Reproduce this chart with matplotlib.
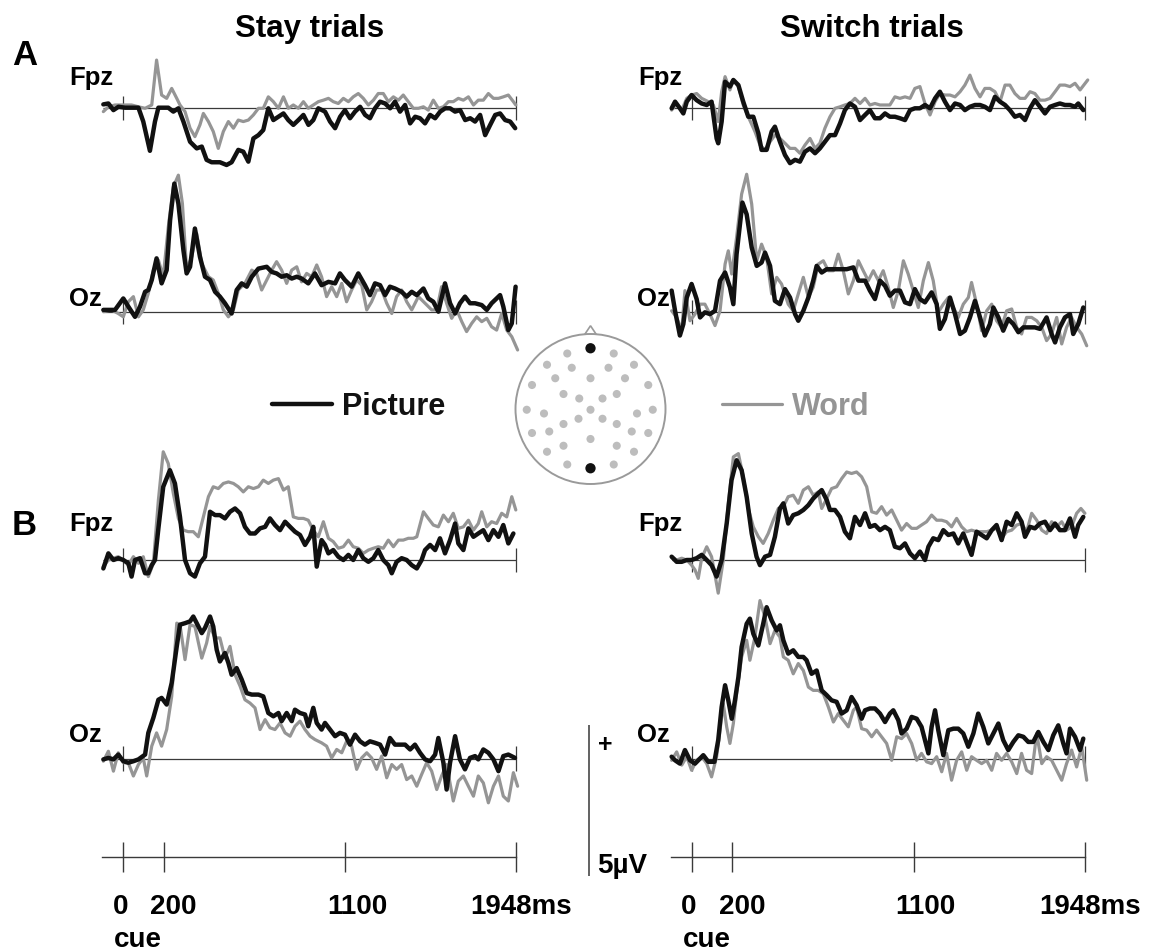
import matplotlib
matplotlib.use('Agg')
import matplotlib.pyplot as plt
import matplotlib.transforms as mtransforms
from matplotlib.patches import Circle, Polygon

plt.rcParams['font.family'] = ['Liberation Sans', 'DejaVu Sans']

# ERP traces, (time ms, amplitude uV), positive up
a_stay_fpz_pic = [(-99, 0.11), (-74, 0.14), (-49, -0.08), (-24, 0.03), (9, 0), (75, 0), (99, -0.46), (132, -1.43),
                  (157, -0.46), (174, 0), (223, 0), (248, -0.13), (273, -0.02), (298, -0.46), (331, -1.13),
                  (364, -1.35), (389, -1.29), (413, -1.73), (438, -1.81), (479, -1.81), (512, -1.90), (537, -1.81),
                  (570, -1.40), (595, -1.46), (620, -1.79), (645, -1.02), (670, -0.91), (694, -0.74), (719, -0.02),
                  (744, -0.41), (769, -0.30), (794, -0.19), (818, -0.41), (843, -0.57), (868, -0.41), (893, -0.24),
                  (918, -0.57), (942, -0.41), (967, -0.02), (1000, -0.13), (1025, -0.46), (1050, -0.68),
                  (1075, -0.30), (1099, -0.08), (1124, -0.35), (1149, -0.13), (1174, 0.03), (1199, -0.24),
                  (1223, -0.35), (1248, -0.02), (1273, 0.20), (1298, 0.14), (1323, -0.02), (1347, 0.20),
                  (1372, -0.13), (1397, 0.09), (1422, -0.52), (1447, -0.30), (1471, -0.35), (1496, -0.52),
                  (1521, -0.24), (1546, -0.35), (1571, -0.13), (1596, -0.02), (1620, -0.02), (1645, -0.13),
                  (1670, -0.08), (1695, -0.41), (1720, -0.35), (1744, -0.46), (1769, -0.24), (1794, -0.91),
                  (1819, -0.57), (1844, -0.24), (1868, -0.19), (1893, -0.41), (1918, -0.46), (1943, -0.68)]
a_stay_fpz_word = [(-99, -0.13), (-74, 0.03), (-41, 0.09), (0, 0.09), (41, 0.09), (75, 0.03), (108, -0.02),
                   (141, 0.09), (165, 1.58), (190, 0.42), (215, 0.31), (240, 0.64), (265, 0.31), (281, 0.09),
                   (306, -0.13), (331, -0.68), (355, -0.96), (380, -0.57), (397, -0.19), (422, -0.46), (446, -0.79),
                   (471, -1.35), (496, -0.79), (521, -0.46), (546, -0.68), (570, -0.41), (595, -0.46), (620, -0.41),
                   (645, -0.24), (670, -0.02), (694, -0.02), (719, 0.36), (744, 0.20), (769, -0.02), (794, 0.36),
                   (818, -0.02), (843, 0.09), (868, -0.02), (893, 0.20), (917, -0.02), (942, 0.09), (967, 0.20),
                   (992, 0.25), (1017, 0.31), (1041, 0.20), (1066, 0.14), (1091, 0.31), (1116, 0.20), (1140, 0.36),
                   (1165, 0.47), (1190, 0.31), (1215, 0.09), (1240, 0.25), (1264, 0.47), (1289, 0.47), (1314, 0.20),
                   (1339, 0.36), (1364, 0.25), (1388, 0.42), (1413, 0.20), (1438, -0.02), (1463, -0.02),
                   (1488, 0.03), (1512, -0.08), (1537, 0.25), (1562, -0.02), (1587, 0.03), (1612, 0.20),
                   (1636, 0.20), (1661, 0.31), (1686, 0.25), (1711, 0.36), (1736, 0.09), (1760, 0.25), (1785, 0.25),
                   (1810, 0.47), (1835, 0.31), (1860, 0.31), (1884, 0.36), (1909, 0.42), (1934, 0.20), (1946, 0.09)]
a_stay_oz_pic = [(-99, 0.06), (-41, 0.06), (0, 0.44), (25, 0.17), (58, -0.17), (83, 0.17), (108, 0.66), (124, 0.72),
                 (141, 1.05), (165, 1.77), (190, 0.94), (215, 1.38), (232, 3.04), (253, 4.25), (273, 3.59),
                 (298, 2.04), (314, 1.27), (331, 1.49), (355, 2.76), (380, 1.82), (405, 1.16), (430, 1.05),
                 (455, 0.66), (479, 0.50), (504, 0.28), (537, -0.06), (562, 0.72), (587, 0.94), (612, 0.83),
                 (637, 1.16), (670, 1.43), (711, 1.49), (736, 1.32), (760, 1.27), (785, 1.16), (810, 1.21),
                 (835, 1.10), (860, 1.16), (884, 1.10), (917, 0.94), (950, 1.27), (983, 0.88), (1017, 0.99),
                 (1050, 0.94), (1074, 1.27), (1099, 1.05), (1132, 0.83), (1165, 1.27), (1198, 0.88), (1223, 0.55),
                 (1248, 0.94), (1273, 0.88), (1298, 0.55), (1322, 0.83), (1347, 0.77), (1380, 0.66), (1405, 0.50),
                 (1430, 0.66), (1455, 0.55), (1488, 0.77), (1512, 0.44), (1537, 0.33), (1562, 0), (1595, 0.94),
                 (1620, 0.28), (1645, -0.06), (1669, 0.28), (1694, 0.50), (1719, 0.28), (1744, 0.28), (1777, 0.22),
                 (1802, 0.06), (1826, 0.28), (1868, 0.55), (1884, 0.17), (1909, -0.61), (1926, -0.39), (1945, 0.83)]
a_stay_oz_word = [(-99, 0), (-58, 0.06), (-25, -0.06), (0, -0.17), (25, 0.33), (50, 0.50), (75, -0.17), (99, 0.06),
                  (124, 0.61), (149, 1.38), (174, 1.71), (198, 1.16), (223, 2.81), (248, 4.14), (273, 4.53),
                  (293, 3.59), (314, 1.38), (339, 1.82), (364, 2.59), (389, 1.60), (422, 1.16), (446, 1.05),
                  (471, 0.61), (496, 0.06), (521, -0.17), (546, 0.06), (570, 0.72), (603, 0.94), (637, 1.38),
                  (661, 1.27), (686, 0.72), (711, 1.05), (736, 1.38), (760, 1.66), (785, 1.38), (810, 0.94),
                  (835, 1.38), (860, 1.49), (884, 0.99), (909, 1.27), (934, 1.16), (959, 1.55), (983, 1.16),
                  (1008, 0.50), (1033, 0.83), (1058, 0.50), (1083, 0.94), (1107, 0.33), (1132, 0.72), (1157, 1.05),
                  (1182, 0.88), (1207, 0.06), (1231, 0.33), (1256, 0.72), (1281, 0.72), (1306, 0.28), (1331, -0.06),
                  (1355, 0.50), (1380, 0.72), (1405, 0.33), (1430, 0.06), (1463, 0.50), (1496, 0.28), (1529, 0.06),
                  (1554, 0.06), (1578, 0.83), (1603, 0.28), (1628, -0.22), (1653, 0.06), (1678, -0.33),
                  (1702, -0.66), (1727, -0.39), (1752, -0.17), (1777, -0.33), (1802, -0.22), (1826, -0.50),
                  (1851, -0.61), (1876, -0.06), (1901, -0.61), (1926, -0.83), (1955, -1.27)]
a_switch_fpz_pic = [(-101, -0.02), (-84, 0.20), (-60, -0.02), (-43, -0.19), (-26, 0.20), (-2, 0.42), (23, 0.25),
                    (48, 0.14), (73, 0.09), (97, 0.20), (122, -1.02), (130, -1.18), (147, -0.46), (164, 0.86),
                    (188, 0.70), (205, 0.92), (230, 0.75), (254, 0.20), (279, -0.30), (304, -0.30), (329, -0.85),
                    (345, -1.40), (370, -1.40), (395, -0.79), (411, -0.63), (436, -1.13), (461, -1.57),
                    (486, -1.84), (511, -1.73), (535, -1.79), (560, -1.46), (585, -1.35), (610, -1.51),
                    (634, -1.35), (659, -1.13), (684, -0.91), (709, -0.91), (734, -0.52), (758, -0.08), (783, 0.14),
                    (808, 0.03), (833, -0.41), (858, -0.24), (882, -0.08), (907, -0.35), (932, -0.35), (957, -0.19),
                    (981, -0.30), (1006, -0.30), (1031, -0.35), (1056, -0.41), (1081, -0.08), (1105, -0.02),
                    (1130, -0.02), (1155, 0.09), (1180, -0.02), (1205, 0.31), (1229, 0.53), (1254, 0.20),
                    (1279, -0.08), (1304, 0.14), (1329, 0.09), (1353, -0.08), (1378, 0.03), (1403, 0.09),
                    (1428, 0.09), (1452, 0.03), (1477, -0.08), (1502, 0.36), (1527, 0.20), (1552, 0.09),
                    (1576, -0.08), (1601, -0.30), (1626, -0.24), (1651, -0.41), (1676, -0.02), (1700, 0.25),
                    (1725, 0.03), (1750, -0.19), (1775, 0.03), (1800, 0.09), (1824, 0.14), (1849, 0.09),
                    (1874, 0.09), (1899, 0.03), (1915, 0.14), (1940, -0.08)]
a_switch_fpz_word = [(-101, -0.08), (-76, 0.14), (-51, -0.08), (-26, 0.31), (-2, 0.42), (23, 0.47), (48, 0.31),
                     (81, 0.20), (106, 0.09), (130, -0.46), (147, 0.53), (164, 1.03), (188, 0.59), (205, 0.92),
                     (230, 0.70), (254, 0.09), (279, -0.30), (312, -0.79), (337, -1.24), (362, -1.40), (387, -1.13),
                     (411, -0.91), (436, -1.02), (461, -1.18), (486, -1.35), (511, -1.35), (535, -1.51),
                     (560, -1.24), (585, -1.02), (610, -1.35), (634, -1.18), (659, -0.68), (684, -0.30),
                     (709, -0.02), (734, 0.03), (758, 0.09), (783, 0.14), (808, 0.31), (833, 0.14), (858, 0.31),
                     (882, 0.09), (907, 0.14), (932, 0.09), (957, 0.09), (981, 0.09), (1006, 0.36), (1031, 0.31),
                     (1056, 0.36), (1081, 0.31), (1105, 0.64), (1130, 0.70), (1155, 0.14), (1180, -0.24),
                     (1205, 0.20), (1229, 0.47), (1254, 0.42), (1279, 0.42), (1304, 0.36), (1329, 0.53),
                     (1353, 0.75), (1378, 1.08), (1403, 0.64), (1428, 0.36), (1452, 0.64), (1477, 0.64),
                     (1502, 0.53), (1527, 0.20), (1552, 0.75), (1576, 0.75), (1601, 0.47), (1626, 0.31),
                     (1651, 0.31), (1676, 0.53), (1700, 0.47), (1725, 0.25), (1750, 0.25), (1775, 0.31),
                     (1800, 0.53), (1824, 0.75), (1849, 0.75), (1874, 0.70), (1899, 0.81), (1924, 0.59), (1962, 0.92)]
a_switch_oz_pic = [(-101, 0.70), (-84, 0.03), (-60, -0.79), (-43, -0.41), (-26, 0.47), (-2, 0.92), (23, 0.42),
                   (40, -0.19), (64, -0.02), (89, -0.08), (114, 0.03), (139, 1.03), (164, 1.30), (188, 0.81),
                   (205, 0.25), (221, 1.91), (250, 3.62), (271, 3.23), (296, 2.13), (321, 1.52), (345, 1.63),
                   (362, 1.96), (387, 1.52), (411, 0.36), (436, 0.25), (461, 0.75), (486, 0.47), (511, -0.08),
                   (527, -0.30), (552, 0.03), (577, 0.47), (601, 1.03), (618, 1.52), (643, 1.30), (668, 1.41),
                   (692, 1.41), (725, 1.41), (767, 1.41), (800, 1.47), (825, 1.03), (858, 1.03), (882, 0.70),
                   (907, 0.42), (932, 1.03), (957, 0.86), (981, 0.53), (1006, 0.70), (1031, 0.70), (1056, 0.31),
                   (1081, 0.25), (1105, 0.75), (1130, 0.42), (1155, 0.31), (1188, 0.64), (1213, 0.25),
                   (1229, -0.57), (1254, -0.24), (1279, 0.47), (1304, -0.08), (1329, -0.74), (1353, -0.63),
                   (1378, -0.19), (1403, 0.36), (1428, -0.19), (1452, -0.79), (1477, -0.41), (1494, 0.14),
                   (1519, -0.19), (1543, -0.63), (1568, -0.24), (1593, -0.41), (1618, -0.68), (1643, -0.52),
                   (1667, -0.52), (1700, -0.52), (1725, -0.57), (1758, -0.19), (1783, -0.74), (1800, -1.02),
                   (1824, -0.52), (1849, -0.19), (1874, -0.08), (1890, -0.74), (1915, -0.41), (1940, 0.14)]
a_switch_oz_word = [(-101, 0.03), (-76, -0.19), (-51, -0.63), (-35, 0.70), (-10, -0.30), (15, -0.08), (40, 0.25),
                    (64, 0.25), (89, -0.08), (114, -0.46), (139, 0.03), (164, 1.58), (180, 2.02), (197, 1.25),
                    (221, 2.46), (246, 3.90), (271, 4.56), (296, 3.57), (321, 1.69), (345, 2.24), (370, 1.80),
                    (395, 0.59), (420, 1.14), (444, 0.92), (477, 0.25), (502, 0.03), (527, 0.59), (552, 1.14),
                    (577, 0.47), (601, 0.81), (626, 1.58), (651, 1.69), (676, 1.36), (701, 1.36), (725, 1.91),
                    (750, 1.36), (775, 0.59), (800, 1.03), (825, 1.69), (849, 1.36), (874, 1.03), (899, 1.36),
                    (924, 1.03), (948, 1.36), (973, 0.81), (998, 0.14), (1023, 0.70), (1048, 1.69), (1072, 1.25),
                    (1097, 0.70), (1122, 0.14), (1147, 1.03), (1172, 1.63), (1196, 1.03), (1221, -0.02),
                    (1246, 0.25), (1271, 0.47), (1296, 0.14), (1320, -0.19), (1345, 0.25), (1370, 0.47),
                    (1386, 0.97), (1411, 0.25), (1436, -0.63), (1461, 0.03), (1486, 0.25), (1510, -0.30),
                    (1535, -0.52), (1560, 0.03), (1585, 0.09), (1610, -0.52), (1634, -0.74), (1659, -0.19),
                    (1684, -0.19), (1709, -0.30), (1734, -0.52), (1758, -0.96), (1783, -0.74), (1808, -0.19),
                    (1833, -1.07), (1857, -0.52), (1882, -0.19), (1907, -0.52), (1932, -0.74), (1957, -1.13)]
b_stay_fpz_pic = [(-99, -0.28), (-74, 0.22), (-49, 0), (-25, 0.06), (0, 0), (25, -0.11), (41, -0.55), (58, 0),
                  (83, 0.06), (108, -0.44), (124, -0.44), (141, -0.17), (157, 0), (174, 1.05), (198, 2.43),
                  (231, 2.98), (256, 2.54), (281, 1.43), (306, 0), (331, -0.44), (355, -0.55), (380, -0.11),
                  (405, 0.11), (430, 1.60), (455, 1.49), (479, 1.49), (504, 1.38), (529, 1.60), (554, 1.71),
                  (579, 1.55), (603, 1.10), (628, 0.88), (653, 0.88), (678, 1.05), (703, 1.10), (727, 1.38),
                  (752, 1.16), (777, 0.99), (802, 1.27), (827, 1.10), (851, 0.94), (876, 0.83), (901, 0.50),
                  (926, 0.77), (942, 1.10), (959, -0.22), (983, 0.66), (1000, 0.50), (1017, 0.22), (1041, 0.33),
                  (1066, 0.11), (1091, 0), (1116, 0.17), (1140, 0), (1165, 0.33), (1190, 0.06), (1215, -0.06),
                  (1240, 0.06), (1264, 0.33), (1289, 0), (1314, -0.17), (1331, -0.44), (1355, -0.06), (1380, 0.06),
                  (1405, 0), (1430, -0.17), (1455, -0.28), (1479, 0), (1496, 0.33), (1521, 0.50), (1546, 0.33),
                  (1570, 0.72), (1595, 0.22), (1620, 0.66), (1645, 1.21), (1661, 0.55), (1686, 0.33), (1711, 1.05),
                  (1736, 0.77), (1760, 0.88), (1785, 0.99), (1810, 0.66), (1835, 0.99), (1860, 0.77), (1884, 1.16),
                  (1909, 0.55), (1934, 0.88)]
b_stay_fpz_word = [(-99, -0.22), (-74, 0), (-49, 0.06), (-25, 0.11), (0, 0), (25, -0.17), (50, 0.11), (75, -0.11),
                   (99, 0.11), (124, -0.55), (149, -0.11), (174, 1.99), (198, 3.59), (223, 3.20), (248, 2.21),
                   (273, 1.38), (298, 0.99), (322, 0.94), (347, 0.94), (372, 0.77), (397, 1.43), (422, 2.10),
                   (446, 2.43), (471, 2.37), (496, 2.54), (521, 2.59), (546, 2.54), (570, 2.43), (595, 2.26),
                   (620, 2.43), (645, 2.37), (670, 2.43), (694, 2.65), (719, 2.54), (744, 2.65), (769, 2.70),
                   (794, 2.32), (818, 2.43), (843, 1.43), (868, 1.38), (893, 1.38), (917, 1.32), (942, 0.99),
                   (967, 0.77), (992, 1.27), (1017, 0.72), (1041, 0.61), (1066, 0.39), (1091, 0.44), (1116, 0.66),
                   (1140, 0.44), (1165, 0.39), (1190, 0.22), (1215, 0.33), (1240, 0.39), (1264, 0.44), (1289, 0.39),
                   (1314, 0.66), (1339, 0.44), (1364, 0.66), (1388, 0.66), (1413, 0.72), (1438, 0.72), (1455, 0.77),
                   (1488, 1.60), (1512, 1.38), (1537, 1.16), (1562, 1.10), (1587, 1.49), (1612, 1.27), (1636, 1.55),
                   (1661, 1.05), (1686, 1.10), (1711, 1.32), (1736, 0.99), (1760, 1.21), (1777, 1.60), (1802, 1.10),
                   (1826, 1.27), (1851, 1.21), (1876, 1.55), (1901, 1.43), (1926, 2.10), (1946, 1.66)]
b_stay_oz_pic = [(-99, -0.03), (-74, 0.02), (-49, -0.03), (-25, 0.13), (0, -0.09), (25, -0.14), (50, -0.09),
                 (75, -0.03), (108, 0.13), (124, 0.85), (149, 1.35), (174, 1.95), (190, 2.01), (215, 1.79),
                 (240, 2.51), (265, 3.72), (281, 4.44), (306, 4.49), (331, 4.55), (347, 4.71), (364, 4.49),
                 (389, 4.16), (405, 4.33), (430, 4.71), (446, 4.38), (463, 3.61), (479, 3.22), (504, 3.50),
                 (521, 3.17), (537, 2.78), (562, 3.00), (587, 2.62), (612, 2.17), (637, 2.12), (670, 2.12),
                 (694, 2.06), (719, 1.51), (744, 1.40), (769, 1.51), (785, 1.24), (810, 1.51), (835, 1.24),
                 (851, 1.62), (876, 1.51), (901, 1.46), (917, 1.07), (942, 1.68), (959, 1.18), (983, 0.96),
                 (1000, 1.18), (1025, 0.96), (1050, 0.74), (1074, 0.85), (1099, 0.79), (1124, 0.46), (1149, 0.79),
                 (1174, 0.57), (1198, 0.46), (1223, 0.57), (1248, 0.52), (1273, 0.46), (1298, 0.13), (1322, 0.68),
                 (1347, 0.46), (1372, 0.46), (1397, 0.46), (1422, 0.30), (1446, 0.46), (1471, 0.19), (1496, -0.03),
                 (1521, -0.09), (1546, 0.13), (1562, 0.68), (1587, -0.14), (1603, -1.03), (1620, -0.14),
                 (1645, 0.74), (1669, -0.03), (1694, -0.36), (1719, 0.02), (1744, 0.08), (1760, -0.03),
                 (1785, 0.30), (1810, 0.19), (1835, -0.03), (1860, -0.42), (1884, 0.08), (1909, 0.13), (1942, 0.02)]
b_stay_oz_word = [(-99, -0.09), (-74, 0.24), (-49, -0.42), (-25, 0.19), (0, -0.14), (25, -0.14), (50, -0.58),
                  (75, -0.20), (99, 0.02), (116, -0.58), (141, 0.41), (165, 0.85), (190, 0.41), (215, 0.96),
                  (240, 2.06), (265, 4.49), (281, 4.44), (306, 3.28), (331, 4.44), (355, 4.38), (389, 3.33),
                  (413, 3.83), (430, 4.38), (455, 4.00), (479, 4.00), (504, 3.33), (529, 3.72), (554, 2.78),
                  (579, 2.40), (603, 1.95), (628, 1.84), (653, 1.68), (678, 0.96), (703, 1.29), (727, 1.02),
                  (752, 0.96), (777, 1.18), (802, 0.85), (827, 0.74), (851, 1.07), (876, 1.24), (901, 0.96),
                  (926, 0.74), (950, 0.63), (983, 0.52), (1008, 0.41), (1033, 0.02), (1058, 0.30), (1083, 0.19),
                  (1107, 0.57), (1132, 0.41), (1157, -0.36), (1182, 0.02), (1207, 0.19), (1231, 0.02),
                  (1256, -0.36), (1281, 0.08), (1306, -0.64), (1331, -0.20), (1355, -0.36), (1380, -0.20),
                  (1405, -0.70), (1430, -0.58), (1455, -0.92), (1479, -0.53), (1504, -0.14), (1529, -0.42),
                  (1554, -1.03), (1578, -0.58), (1603, -0.20), (1636, -1.41), (1661, -0.75), (1686, -0.58),
                  (1711, -0.92), (1736, -1.25), (1760, -0.58), (1785, -0.81), (1810, -1.47), (1835, -0.92),
                  (1860, -0.58), (1884, -1.25), (1909, -1.41), (1934, -0.47), (1955, -0.92)]
b_switch_fpz_pic = [(-101, 0.11), (-76, -0.06), (-51, -0.06), (-26, 0), (-2, 0), (23, 0.06), (48, 0.17), (73, 0),
                    (97, -0.17), (122, -0.55), (147, 0), (172, 1.21), (196, 2.65), (221, 3.31), (246, 2.98),
                    (271, 2.10), (296, 0.88), (320, 0.11), (337, -0.17), (362, 0.11), (387, 0.17), (411, 0.77),
                    (436, 1.71), (453, 1.88), (477, 1.21), (502, 1.49), (527, 1.55), (552, 1.66), (577, 1.82),
                    (601, 2.04), (626, 2.21), (643, 2.32), (668, 1.99), (684, 1.66), (709, 1.66), (734, 1.43),
                    (758, 0.94), (783, 0.72), (808, 1.43), (833, 1.16), (858, 1.55), (882, 1.10), (907, 1.16),
                    (932, 0.99), (957, 1.10), (981, 0.99), (1006, 0.44), (1031, 0.39), (1056, 0.55), (1081, 0.22),
                    (1105, 0.06), (1130, 0.28), (1155, 0), (1172, 0.44), (1196, 0.72), (1221, 0.66), (1246, 0.99),
                    (1271, 0.83), (1296, 0.88), (1320, 0.55), (1345, 0.88), (1370, 0.44), (1386, 0.17), (1411, 0.94),
                    (1436, 0.83), (1461, 0.72), (1486, 0.99), (1510, 1.16), (1535, 0.66), (1560, 1.27), (1585, 1.16),
                    (1610, 1.55), (1634, 1.27), (1651, 0.77), (1676, 1.10), (1700, 1.05), (1725, 1.21), (1750, 1.27),
                    (1775, 0.99), (1800, 1.21), (1824, 0.99), (1849, 0.99), (1874, 1.38), (1899, 0.77), (1915, 1.16),
                    (1940, 1.43)]
b_switch_fpz_word = [(-101, 0.11), (-76, 0), (-51, 0.06), (-26, 0), (-2, -0.17), (15, -0.33), (31, -0.61),
                     (48, 0.06), (73, 0.44), (97, 0.11), (114, -0.50), (130, -1.10), (155, 0), (180, 1.88),
                     (205, 3.42), (230, 3.53), (254, 2.76), (279, 1.71), (304, 1.10), (329, 0.77), (353, 0.55),
                     (378, 0.88), (403, 1.32), (428, 1.71), (453, 1.77), (477, 2.10), (502, 2.15), (527, 1.88),
                     (552, 2.32), (577, 2.43), (601, 2.15), (626, 2.26), (643, 1.71), (668, 2.04), (692, 2.37),
                     (717, 2.43), (742, 2.70), (767, 2.92), (791, 2.87), (816, 2.92), (841, 2.76), (866, 2.43),
                     (891, 1.60), (915, 1.55), (940, 1.77), (965, 1.49), (990, 1.66), (1015, 1.32), (1039, 0.99),
                     (1064, 1.21), (1089, 1.05), (1114, 1.05), (1138, 1.16), (1163, 1.27), (1188, 1.49), (1213, 1.32),
                     (1238, 1.32), (1262, 1.27), (1287, 1.10), (1312, 1.38), (1337, 1.10), (1362, 0.94), (1386, 0.99),
                     (1411, 0.94), (1436, 0.94), (1461, 0.94), (1486, 0.99), (1510, 1.05), (1535, 0.72), (1560, 0.94),
                     (1585, 0.99), (1610, 1.16), (1634, 1.21), (1659, 0.94), (1684, 1.55), (1709, 1.32), (1734, 0.99),
                     (1758, 0.88), (1783, 1.27), (1808, 1.10), (1833, 1.27), (1857, 0.99), (1882, 1.10), (1907, 1.55),
                     (1928, 1.71), (1948, 1.55)]
b_switch_oz_pic = [(-101, 0.06), (-84, -0.06), (-60, -0.17), (-35, 0.28), (-10, -0.06), (15, -0.17), (40, 0),
                   (56, 0.11), (81, -0.11), (111, -0.11), (130, 0.61), (147, 1.71), (164, 2.43), (180, 1.93),
                   (197, 1.32), (213, 1.93), (230, 2.70), (246, 3.70), (271, 4.47), (287, 4.64), (304, 4.14),
                   (329, 3.75), (353, 4.47), (370, 5.02), (395, 4.58), (420, 4.25), (436, 4.42), (453, 3.92),
                   (477, 3.48), (502, 3.59), (527, 3.37), (552, 3.37), (568, 3.26), (593, 2.81), (618, 2.92),
                   (643, 2.26), (668, 2.10), (692, 1.93), (717, 1.88), (742, 1.49), (767, 1.60), (791, 2.04),
                   (816, 1.77), (841, 1.32), (858, 1.60), (882, 1.66), (907, 1.66), (932, 1.49), (957, 1.21),
                   (981, 1.49), (998, 1.60), (1023, 1.27), (1039, 0.83), (1064, 0.99), (1089, 1.38), (1114, 1.32),
                   (1138, 1.05), (1172, 0.17), (1188, 1.05), (1205, 1.60), (1221, 0.94), (1246, 0.11), (1271, 0.94),
                   (1296, 0.99), (1320, 0.99), (1345, 0.83), (1370, 0.39), (1395, 0.83), (1419, 1.49), (1444, 1.05),
                   (1469, 0.50), (1494, 0.83), (1519, 1.16), (1543, 0.61), (1568, 0.28), (1593, 0.55), (1618, 0.77),
                   (1643, 0.72), (1667, 0.55), (1692, 0.55), (1717, 0.88), (1742, 0.55), (1767, 0.28), (1791, 0.77),
                   (1816, 1.10), (1841, 0.50), (1857, 0.17), (1874, 0.99), (1899, 0.72), (1924, 0.28), (1940, 0.66)]
b_switch_oz_word = [(-101, -0.06), (-76, 0.22), (-51, -0.22), (-26, 0.06), (-2, -0.39), (23, -0.06), (48, 0.06),
                    (73, -0.17), (97, -0.61), (122, 0.06), (139, 0.94), (155, 1.82), (172, 1.05), (188, 0.50),
                    (205, 1.16), (221, 2.15), (246, 3.37), (271, 3.92), (287, 3.26), (312, 4.03), (337, 5.24),
                    (362, 4.69), (387, 3.81), (411, 4.25), (436, 4.03), (453, 3.37), (477, 3.26), (502, 2.81),
                    (527, 3.15), (552, 2.92), (577, 2.37), (601, 2.26), (626, 2.26), (651, 2.15), (676, 1.71),
                    (701, 1.21), (725, 1.49), (750, 1.27), (775, 1.05), (800, 1.60), (816, 1.71), (841, 0.99),
                    (866, 0.94), (891, 0.72), (915, 0.94), (940, 0.72), (965, 0.50), (990, -0.06), (1015, 0.72),
                    (1039, 0.66), (1064, 0.83), (1089, 0.50), (1114, -0.06), (1138, 0.17), (1163, -0.11),
                    (1188, -0.17), (1213, 0.06), (1238, -0.44), (1262, 0.17), (1287, -0.72), (1312, -0.06),
                    (1337, 0.22), (1362, -0.39), (1386, 0.06), (1411, -0.06), (1436, -0.17), (1461, -0.06),
                    (1486, -0.39), (1510, 0.17), (1535, -0.06), (1560, 0.17), (1585, -0.11), (1610, -0.50),
                    (1634, 0.17), (1659, -0.39), (1684, -0.50), (1709, 0.83), (1734, -0.17), (1758, 0.06),
                    (1783, -0.06), (1808, -0.39), (1833, -0.72), (1857, -0.17), (1882, 0.28), (1907, -0.28),
                    (1932, 0.39), (1957, -0.72)]

epoch = (-100, 1948)
time_ticks = [0, 200, 1100, 1948]
time_labels = ['0', '200', '1100', '1948ms']
scale_uv = 5

# electrode montage, head radius = 1
electrodes_grey = [(-0.31, 0.74), (0.31, 0.74), (-0.58, 0.59), (-0.25, 0.55), (0.24, 0.55), (0.58, 0.59),
                   (-0.78, 0.32), (-0.47, 0.41), (0, 0.41), (0.46, 0.41), (0.77, 0.32), (-0.36, 0.20),
                   (-0.15, 0.14), (0.16, 0.14), (0.35, 0.20), (-0.85, -0.01), (-0.62, -0.06), (0, -0.01),
                   (0.62, -0.06), (0.83, -0.01), (-0.16, -0.13), (0.16, -0.13), (-0.36, -0.20), (0.35, -0.20),
                   (-0.78, -0.32), (-0.55, -0.30), (0.55, -0.30), (0.77, -0.32), (0, -0.40), (-0.58, -0.57),
                   (-0.36, -0.49), (0.35, -0.49), (0.58, -0.57), (-0.31, -0.74), (0.31, -0.74)]
electrodes_shown = [(0, 0.81), (0, -0.79)]  # Fpz, Oz

# ---- layout (pixels of the 1159x951 picture) ----
W, H = 1159, 951
PX_MS = 0.2017
PX_UV = 30.14
zero_px = {'stay': 123.3, 'switch': 692.0}
base_px = {('A', 'Fpz'): 107.7, ('A', 'Oz'): 311.7, ('B', 'Fpz'): 560.0, ('B', 'Oz'): 758.5}
label_base_px = {('A', 'Fpz'): 85.5, ('A', 'Oz'): 306, ('B', 'Fpz'): 530.5, ('B', 'Oz'): 742}
label_gap_px = {'Fpz': 10, 'Oz': 22}
axis_px = 857
pic_colour = '#111111'
word_colour = '#959595'
line_colour = '#3a3a3a'


def fx(px):
    return px / W


def fy(py):
    return 1 - py / H


def axes_px(x_zero, y_zero, xlim, ylim):
    left = x_zero + xlim[0] * PX_MS
    width = (xlim[1] - xlim[0]) * PX_MS
    top = y_zero - ylim[1] * PX_UV
    height = (ylim[1] - ylim[0]) * PX_UV
    ax = fig.add_axes([fx(left), fy(top + height), width / W, height / H])
    ax.set_xlim(xlim)
    ax.set_ylim(ylim)
    return ax


fig = plt.figure(figsize=(W / 100, H / 100), dpi=100)

panels = [('stay', 'A', 'Fpz', a_stay_fpz_pic, a_stay_fpz_word),
          ('stay', 'A', 'Oz', a_stay_oz_pic, a_stay_oz_word),
          ('switch', 'A', 'Fpz', a_switch_fpz_pic, a_switch_fpz_word),
          ('switch', 'A', 'Oz', a_switch_oz_pic, a_switch_oz_word),
          ('stay', 'B', 'Fpz', b_stay_fpz_pic, b_stay_fpz_word),
          ('stay', 'B', 'Oz', b_stay_oz_pic, b_stay_oz_word),
          ('switch', 'B', 'Fpz', b_switch_fpz_pic, b_switch_fpz_word),
          ('switch', 'B', 'Oz', b_switch_oz_pic, b_switch_oz_word)]

for col, part, site, pic, word in panels:
    ax = axes_px(zero_px[col], base_px[(part, site)], (-125, 1975), (-2.2, 5.6))
    ax.axis('off')
    ax.hlines(0, epoch[0], epoch[1], color=line_colour, lw=0.9)
    ax.vlines([0, epoch[1]], -0.4, 0.4, color=line_colour, lw=0.9)
    t, v = zip(*word)
    word_line, = ax.plot(t, v, color=word_colour, lw=2.3, solid_joinstyle='round', solid_capstyle='round',
                         clip_on=False)
    t, v = zip(*pic)
    pic_line, = ax.plot(t, v, color=pic_colour, lw=3.2, solid_joinstyle='round', solid_capstyle='round',
                        clip_on=False)
    fig.text(fx(zero_px[col] - label_gap_px[site]), fy(label_base_px[(part, site)]), site,
             ha='right', va='baseline', fontsize=18.5, fontweight='bold')

# time axes
for col in ['stay', 'switch']:
    tax = axes_px(zero_px[col], axis_px, (-105, epoch[1]), (0, 1))
    for s in ['left', 'right', 'top']:
        tax.spines[s].set_visible(False)
    tax.spines['bottom'].set_color(line_colour)
    tax.spines['bottom'].set_linewidth(1.0)
    tax.patch.set_alpha(0)
    tax.set_yticks([])
    tax.set_xticks(time_ticks, time_labels)
    tax.tick_params(axis='x', direction='inout', length=21, width=1.0, color=line_colour,
                    pad=16, labelsize=20)
    for lbl, dx in zip(tax.get_xticklabels(), [-3, 10, 12, 5]):
        lbl.set_fontweight('bold')
        lbl.set_transform(lbl.get_transform() + mtransforms.ScaledTranslation(dx / 100, 0, fig.dpi_scale_trans))
    tax.annotate('cue', xy=(0, 0), xycoords=('data', 'axes fraction'), xytext=(-9, -90),
                 textcoords='offset pixels', ha='left', va='baseline', fontsize=20, fontweight='bold',
                 annotation_clip=False)

# amplitude scale bar
sax = fig.add_axes([fx(584), fy(876), fx(10), (scale_uv * PX_UV) / H])
sax.set_xlim(-1, 1)
sax.set_ylim(0, scale_uv)
sax.axis('off')
sax.vlines(0, 0, scale_uv, color='#555555', lw=1.3)
fig.text(fx(605), fy(745), '+', ha='center', va='center', fontsize=18, fontweight='bold')
fig.text(fx(597), fy(872.7), '5µV', ha='left', va='baseline', fontsize=20, fontweight='bold')

# titles and panel letters
fig.text(fx(310), fy(37), 'Stay trials', ha='center', va='baseline', fontsize=22.5, fontweight='bold')
fig.text(fx(872), fy(37), 'Switch trials', ha='center', va='baseline', fontsize=22.5, fontweight='bold')
fig.text(fx(12), fy(65), 'A', ha='left', va='baseline', fontsize=25, fontweight='bold')
fig.text(fx(12), fy(535), 'B', ha='left', va='baseline', fontsize=25, fontweight='bold')

# head with electrodes
hax = fig.add_axes([fx(590.5 - 85), fy(409 + 85), 170 / W, 170 / H])
hax.set_xlim(-85 / 75, 85 / 75)
hax.set_ylim(-85 / 75, 85 / 75)
hax.axis('off')
hax.add_patch(Polygon([(-0.08, 0.99), (0, 1.11), (0.08, 0.99)], closed=True, facecolor='white',
                      edgecolor='#9a9a9a', lw=1.2))
hax.add_patch(Circle((0, 0), 1.0, facecolor='white', edgecolor='#9a9a9a', lw=1.4))
gx, gy = zip(*electrodes_grey)
hax.scatter(gx, gy, s=34, color='#bdbdbd', edgecolors='none', zorder=3)
bx, by = zip(*electrodes_shown)
hax.scatter(bx, by, s=55, color='#111111', edgecolors='none', zorder=3)

# legend
leg_font = {'size': 22, 'weight': 'bold'}
fig.legend([pic_line], ['Picture'], loc='center left', bbox_to_anchor=(fx(272), fy(407)), frameon=False,
           handlelength=1.95, handletextpad=0.33, borderpad=0, borderaxespad=0, prop=leg_font,
           labelcolor='linecolor')
fig.legend([word_line], ['Word'], loc='center left', bbox_to_anchor=(fx(722), fy(407)), frameon=False,
           handlelength=1.95, handletextpad=0.33, borderpad=0, borderaxespad=0, prop=leg_font,
           labelcolor='linecolor')

fig.savefig('out.png', dpi=100)
